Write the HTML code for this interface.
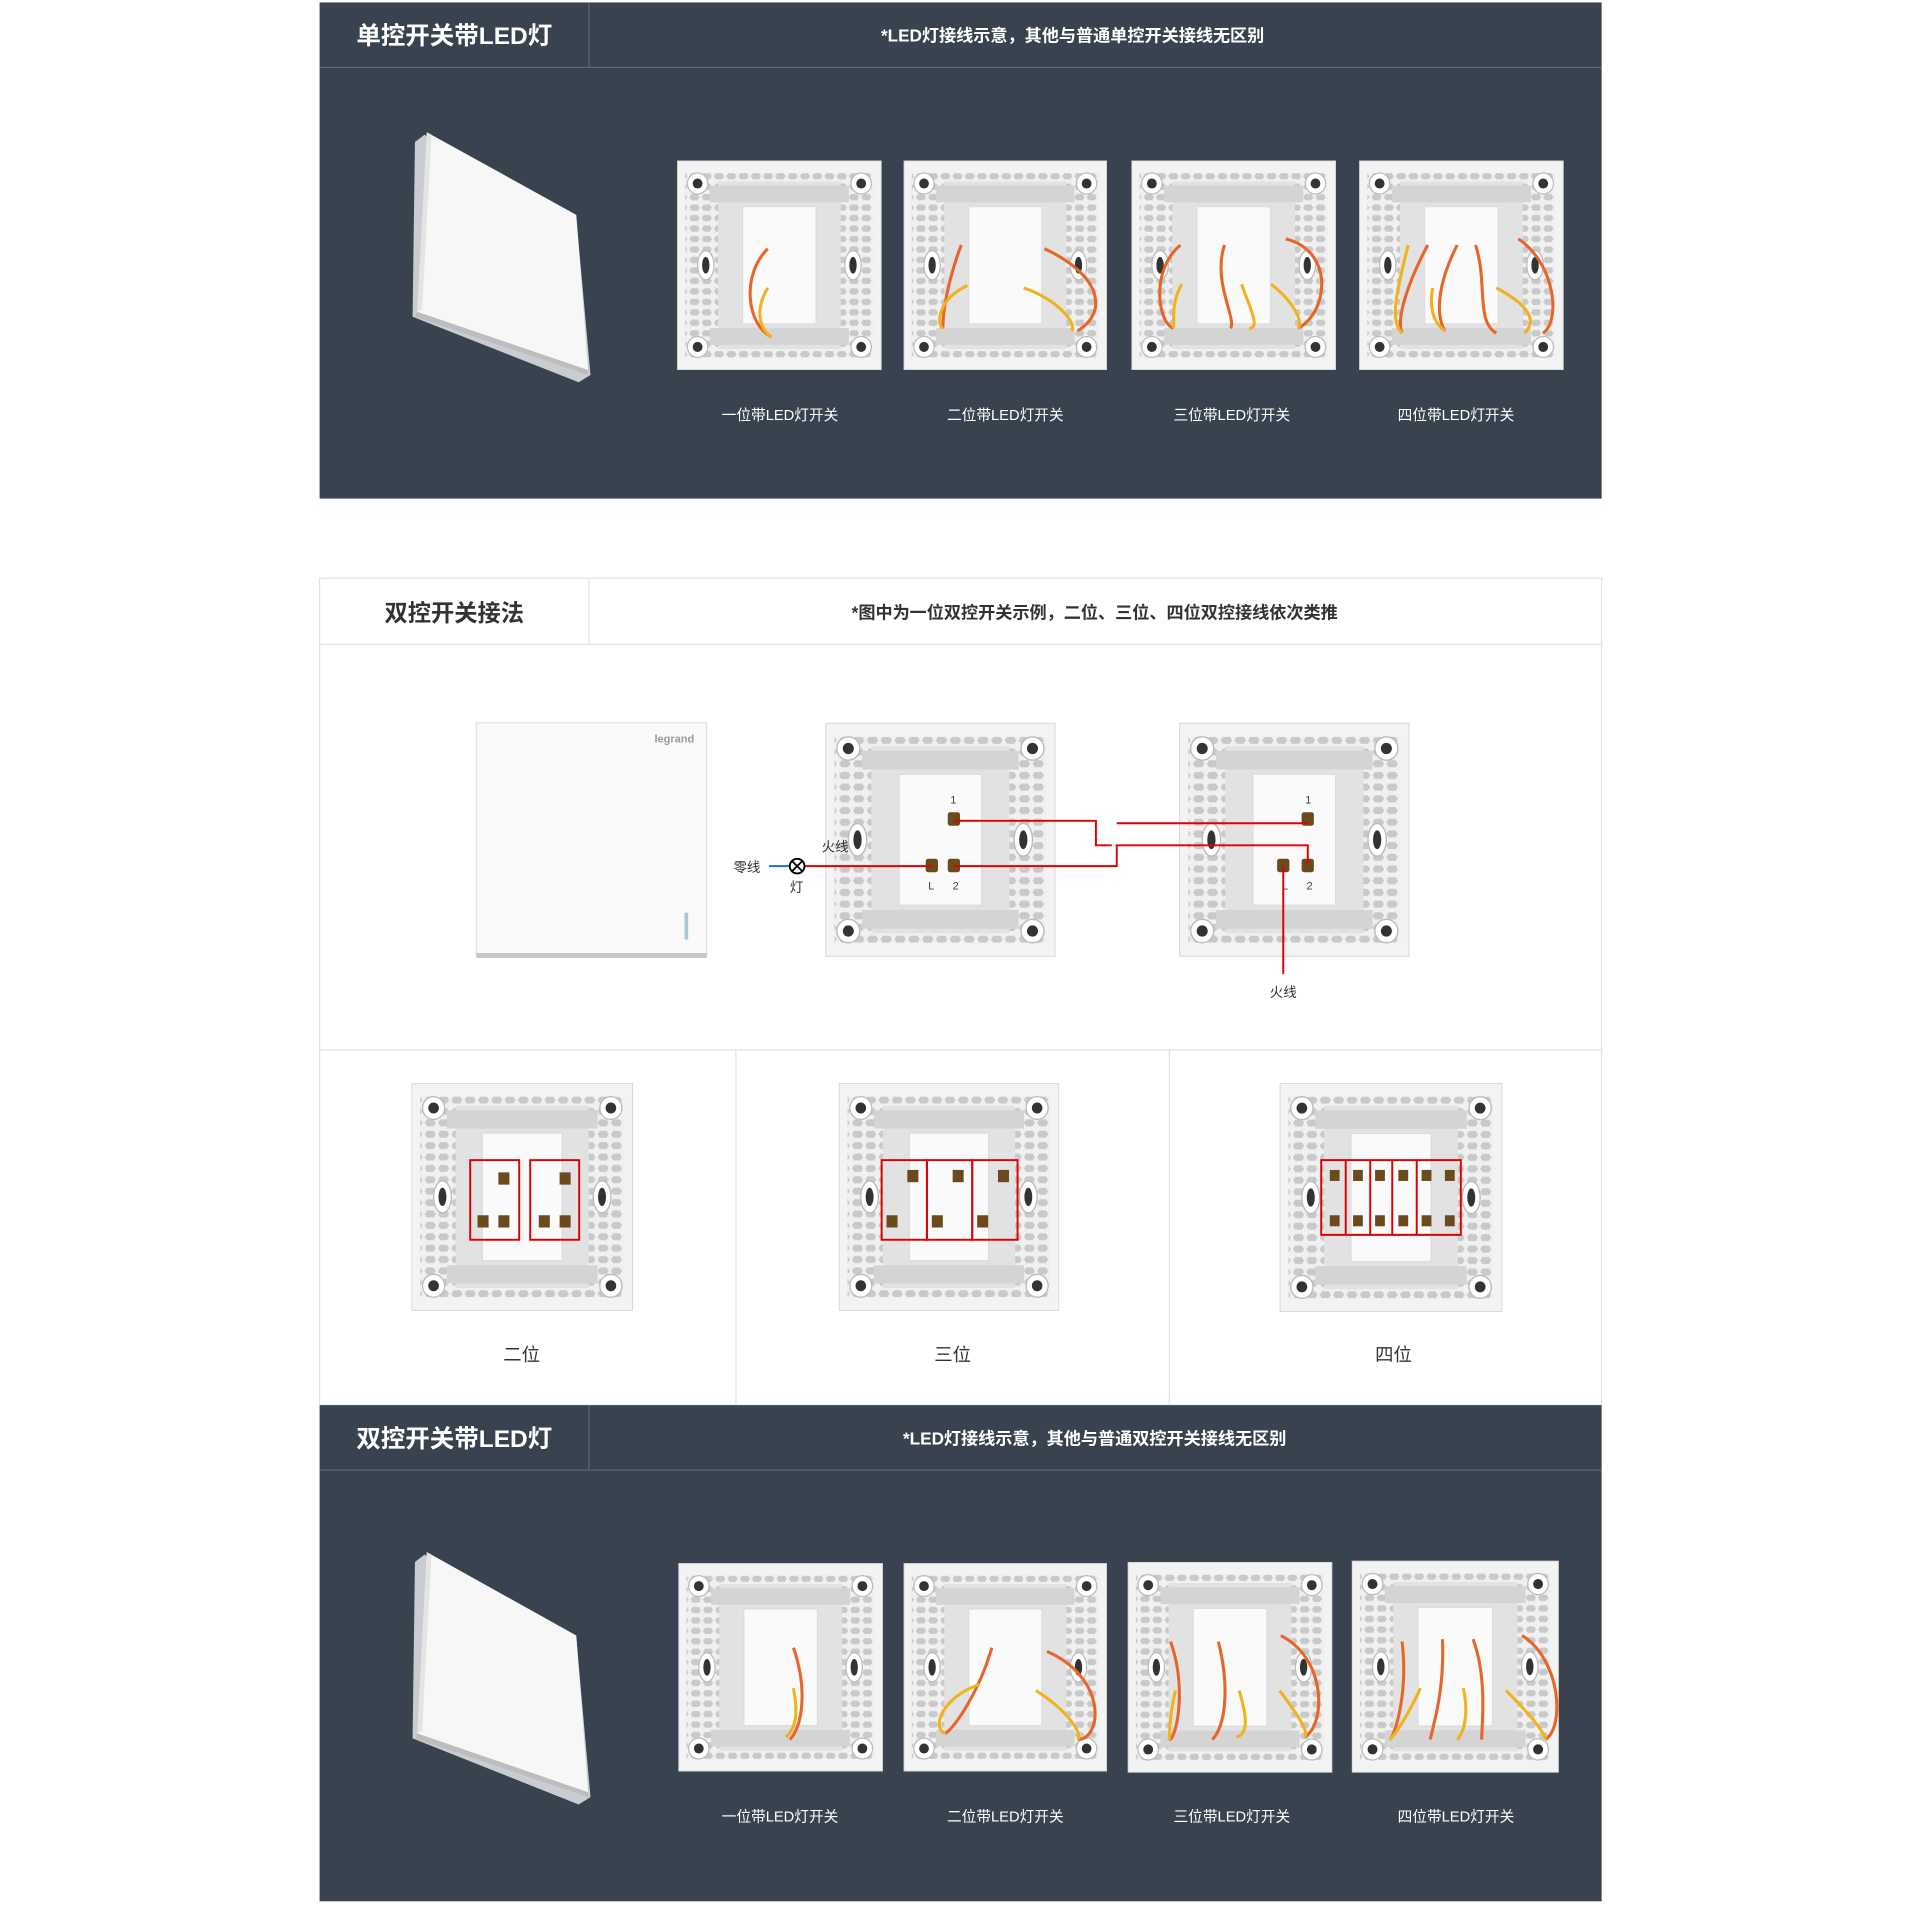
<!DOCTYPE html>
<html><head><meta charset="utf-8"><style>
html,body{margin:0;padding:0;background:#fff}
svg{display:block}
text{font-family:"Liberation Sans","Noto Sans CJK SC",sans-serif}
</style></head><body>
<svg width="1920" height="1916" viewBox="0 0 1568 1564" preserveAspectRatio="none" xmlns="http://www.w3.org/2000/svg">
<defs>
<pattern id="hx" width="6" height="5" patternUnits="userSpaceOnUse">
<rect width="6" height="5" fill="#f0f0f0"/>
<path d="M1 1h3l1 1.5-1 1.5h-3l-1-1.5z" fill="#c9c9c9"/>
</pattern>
<symbol id="bp" viewBox="0 0 100 100" preserveAspectRatio="none">
<rect x="0" y="0" width="100" height="100" fill="#f3f3f3" stroke="#d6d6d6" stroke-width="0.8"/>
<rect x="4" y="6" width="92" height="88" fill="url(#hx)"/>
<rect x="20" y="10" width="60" height="80" fill="#e2e2e2"/>
<rect x="16" y="12" width="68" height="8" fill="#d4d4d4"/>
<rect x="16" y="80" width="68" height="8" fill="#d4d4d4"/>
<rect x="32" y="22" width="36" height="56" fill="#fafafa" stroke="#ddd" stroke-width="0.6"/>
<g fill="#fff" stroke="#bbb" stroke-width="0.6">
<circle cx="10" cy="11" r="5"/><circle cx="90" cy="11" r="5"/><circle cx="10" cy="89" r="5"/><circle cx="90" cy="89" r="5"/>
<ellipse cx="14" cy="50" rx="4" ry="7"/><ellipse cx="86" cy="50" rx="4" ry="7"/></g>
<g fill="#333"><circle cx="10" cy="11" r="2.4"/><circle cx="90" cy="11" r="2.4"/><circle cx="10" cy="89" r="2.4"/><circle cx="90" cy="89" r="2.4"/>
<ellipse cx="14" cy="50" rx="1.8" ry="4"/><ellipse cx="86" cy="50" rx="1.8" ry="4"/></g>
</symbol>
<symbol id="tilt" viewBox="0 0 160 210" preserveAspectRatio="none">
<polygon points="12,2 140,70 152,200 142,206 2,152 4,8" fill="#c9ccd0"/>
<polygon points="14,0 140,68 150,196 6,148" fill="#f7f7f7"/>
<polygon points="6,148 150,196 150,200 4,152" fill="#bdbdbd"/>
<polygon points="14,0 18,2 10,146 6,148" fill="#e4e4e4"/>
</symbol>
</defs>

<!-- Panel 1 -->
<rect x="261" y="2" width="1047" height="405" fill="#38434f"/>
<line x1="261" y1="55" x2="1308" y2="55" stroke="#5d6772" stroke-width="1"/>
<line x1="481" y1="2" x2="481" y2="55" stroke="#5d6772" stroke-width="1"/>
<text x="371" y="36" font-size="20" font-weight="bold" fill="#fff" text-anchor="middle">单控开关带LED灯</text>
<text x="876" y="34" font-size="14" font-weight="bold" fill="#fff" text-anchor="middle">*LED灯接线示意，其他与普通单控开关接线无区别</text>
<use href="#tilt" x="335" y="108" width="155" height="208"/>
<use href="#bp" x="553" y="131" width="167" height="171"/>
<use href="#bp" x="738" y="131" width="166" height="171"/>
<use href="#bp" x="924" y="131" width="167" height="171"/>
<use href="#bp" x="1110" y="131" width="167" height="171"/>
<g fill="none" stroke-width="2.5">
<path d="M627 203C605 225 610 265 630 275" stroke="#e8652a"/><path d="M627 235C615 255 622 270 630 275" stroke="#f0b21d"/>
<path d="M785 200C770 240 770 265 770 268M853 203C900 225 905 255 880 270" stroke="#e8652a"/><path d="M790 233C765 245 765 265 770 268M836 235C865 245 880 265 875 270" stroke="#f0b21d"/>
<path d="M964 200C940 220 945 262 958 268M1000 200C990 230 1010 260 1005 268M1050 195C1090 205 1085 255 1060 268" stroke="#e8652a"/><path d="M965 232C955 250 960 265 958 268M1014 232C1020 250 1030 268 1020 268M1038 232C1055 245 1065 262 1060 268" stroke="#f0b21d"/>
<path d="M1166 200C1150 230 1140 260 1145 272M1190 200C1170 240 1175 262 1180 270M1205 200C1215 230 1205 262 1222 272M1240 195C1270 215 1275 262 1260 272" stroke="#e8652a"/><path d="M1150 200C1140 240 1135 262 1145 272M1170 235C1165 262 1180 270 1180 270M1222 235C1250 250 1255 262 1245 272" stroke="#f0b21d"/>
</g>
<g font-size="12" fill="#fff" text-anchor="middle">
<text x="637" y="343">一位带LED灯开关</text><text x="821" y="343">二位带LED灯开关</text><text x="1006" y="343">三位带LED灯开关</text><text x="1189" y="343">四位带LED灯开关</text>
</g>

<!-- Panel 2 -->
<rect x="261" y="472" width="1047" height="675" fill="#fff" stroke="#e3e3e3" stroke-width="1"/>
<line x1="261" y1="526" x2="1308" y2="526" stroke="#e3e3e3"/>
<line x1="481" y1="472" x2="481" y2="526" stroke="#e3e3e3"/>
<line x1="261" y1="857" x2="1308" y2="857" stroke="#e3e3e3"/>
<line x1="601" y1="857" x2="601" y2="1147" stroke="#e3e3e3"/>
<line x1="955" y1="857" x2="955" y2="1147" stroke="#e3e3e3"/>
<text x="371" y="507" font-size="19" font-weight="bold" fill="#333" text-anchor="middle">双控开关接法</text>
<text x="894" y="505" font-size="14" font-weight="bold" fill="#333" text-anchor="middle">*图中为一位双控开关示例，二位、三位、四位双控接线依次类推</text>
<rect x="389" y="590" width="188" height="190" fill="#fafafa" stroke="#e0e0e0"/>
<rect x="389" y="778" width="188" height="4" fill="#c8c8c8"/>
<text x="567" y="606" font-size="9" font-weight="bold" fill="#999" text-anchor="end">legrand</text>
<rect x="559" y="745" width="3" height="22" fill="#a9c7d6"/>
<use href="#bp" x="674" y="590" width="188" height="191"/>
<use href="#bp" x="963" y="590" width="188" height="191"/>
<g fill="#6b4a1e"><rect x="774" y="663" width="10" height="11" rx="2"/><rect x="756" y="701" width="10" height="11" rx="2"/><rect x="774" y="701" width="10" height="11" rx="2"/>
<rect x="1063" y="663" width="10" height="11" rx="2"/><rect x="1043" y="701" width="10" height="11" rx="2"/><rect x="1063" y="701" width="10" height="11" rx="2"/></g>
<g font-size="9" fill="#444"><text x="776" y="656">1</text><text x="1066" y="656">1</text><text x="758" y="726">L</text><text x="778" y="726">2</text><text x="1047" y="726">L</text><text x="1067" y="726">2</text></g>
<g fill="none" stroke="#e00000" stroke-width="1.6">
<path d="M779 670H895V690H908"/><path d="M912 672H1068"/>
<path d="M656 707H760"/><path d="M779 707H912V690H1068V705"/>
<path d="M1048 707V795"/>
</g>
<line x1="628" y1="707" x2="645" y2="707" stroke="#1e6fd9" stroke-width="1.6"/>
<circle cx="651" cy="707" r="6" fill="#fff" stroke="#000" stroke-width="1.5"/>
<path d="M647 703L655 711M655 703L647 711" stroke="#000" stroke-width="1.5"/>
<g font-size="11" fill="#333"><text x="599" y="712">零线</text><text x="645" y="728">灯</text><text x="671" y="695">火线</text><text x="1037" y="814">火线</text></g>

<use href="#bp" x="336" y="884" width="181" height="186"/>
<use href="#bp" x="685" y="884" width="180" height="186"/>
<use href="#bp" x="1045" y="884" width="182" height="187"/>
<g fill="none" stroke="#e00000" stroke-width="1.6">
<rect x="384" y="947" width="40" height="65"/><rect x="433" y="947" width="40" height="65"/>
<rect x="720" y="947" width="37" height="65"/><rect x="757" y="947" width="37" height="65"/><rect x="794" y="947" width="37" height="65"/>
<path d="M1079 947H1193V1008H1079Z M1099 947V985L1099 1008 M1119 947V1008 M1137 947V1008 M1157 947V985 L1157 1008"/>
</g>
<g fill="#6b4a1e">
<rect x="407" y="957" width="9" height="10"/><rect x="457" y="957" width="9" height="10"/>
<rect x="390" y="992" width="9" height="10"/><rect x="407" y="992" width="9" height="10"/><rect x="440" y="992" width="9" height="10"/><rect x="457" y="992" width="9" height="10"/>
<rect x="741" y="955" width="9" height="10"/><rect x="778" y="955" width="9" height="10"/><rect x="815" y="955" width="9" height="10"/>
<rect x="724" y="992" width="9" height="10"/><rect x="761" y="992" width="9" height="10"/><rect x="798" y="992" width="9" height="10"/>
<rect x="1086" y="955" width="8" height="9"/><rect x="1105" y="955" width="8" height="9"/><rect x="1123" y="955" width="8" height="9"/><rect x="1142" y="955" width="8" height="9"/><rect x="1161" y="955" width="8" height="9"/><rect x="1180" y="955" width="8" height="9"/>
<rect x="1086" y="992" width="8" height="9"/><rect x="1105" y="992" width="8" height="9"/><rect x="1123" y="992" width="8" height="9"/><rect x="1142" y="992" width="8" height="9"/><rect x="1161" y="992" width="8" height="9"/><rect x="1180" y="992" width="8" height="9"/>
</g>
<g font-size="15" fill="#333" text-anchor="middle"><text x="426" y="1111">二位</text><text x="778" y="1111">三位</text><text x="1138" y="1111">四位</text></g>

<!-- Panel 3 -->
<rect x="261" y="1147" width="1047" height="405" fill="#38434f"/>
<line x1="261" y1="1200" x2="1308" y2="1200" stroke="#5d6772"/>
<line x1="481" y1="1147" x2="481" y2="1200" stroke="#5d6772"/>
<text x="371" y="1181" font-size="20" font-weight="bold" fill="#fff" text-anchor="middle">双控开关带LED灯</text>
<text x="894" y="1179" font-size="14" font-weight="bold" fill="#fff" text-anchor="middle">*LED灯接线示意，其他与普通双控开关接线无区别</text>
<use href="#tilt" x="335" y="1267" width="155" height="210"/>
<use href="#bp" x="554" y="1276" width="167" height="170"/>
<use href="#bp" x="738" y="1276" width="166" height="170"/>
<use href="#bp" x="921" y="1275" width="167" height="172"/>
<use href="#bp" x="1104" y="1274" width="169" height="173"/>
<g fill="none" stroke-width="2.5">
<path d="M648 1345C660 1380 655 1410 645 1420" stroke="#e8652a"/><path d="M648 1378C652 1400 650 1410 642 1418" stroke="#f0b21d"/>
<path d="M810 1345C800 1380 780 1410 772 1415M855 1348C905 1370 900 1420 880 1420" stroke="#e8652a"/><path d="M800 1375C770 1385 760 1410 772 1415M846 1380C870 1395 885 1415 880 1420" stroke="#f0b21d"/>
<path d="M956 1340C970 1380 960 1420 955 1420M995 1340C1005 1380 1000 1410 990 1420M1046 1335C1085 1355 1082 1410 1065 1418" stroke="#e8652a"/><path d="M960 1380C955 1400 955 1415 955 1420M1012 1380C1018 1400 1020 1415 1010 1418M1045 1380C1060 1400 1070 1415 1065 1418" stroke="#f0b21d"/>
<path d="M1145 1340C1150 1380 1140 1415 1135 1420M1178 1338C1180 1380 1170 1410 1168 1420M1203 1338C1215 1370 1210 1410 1210 1420M1243 1335C1275 1355 1278 1410 1262 1420" stroke="#e8652a"/><path d="M1160 1378C1150 1400 1140 1415 1135 1420M1195 1378C1200 1400 1195 1415 1190 1420M1230 1380C1250 1400 1262 1415 1262 1420" stroke="#f0b21d"/>
</g>
<g font-size="12" fill="#fff" text-anchor="middle">
<text x="637" y="1487">一位带LED灯开关</text><text x="821" y="1487">二位带LED灯开关</text><text x="1006" y="1487">三位带LED灯开关</text><text x="1189" y="1487">四位带LED灯开关</text>
</g>
</svg>
</body></html>
